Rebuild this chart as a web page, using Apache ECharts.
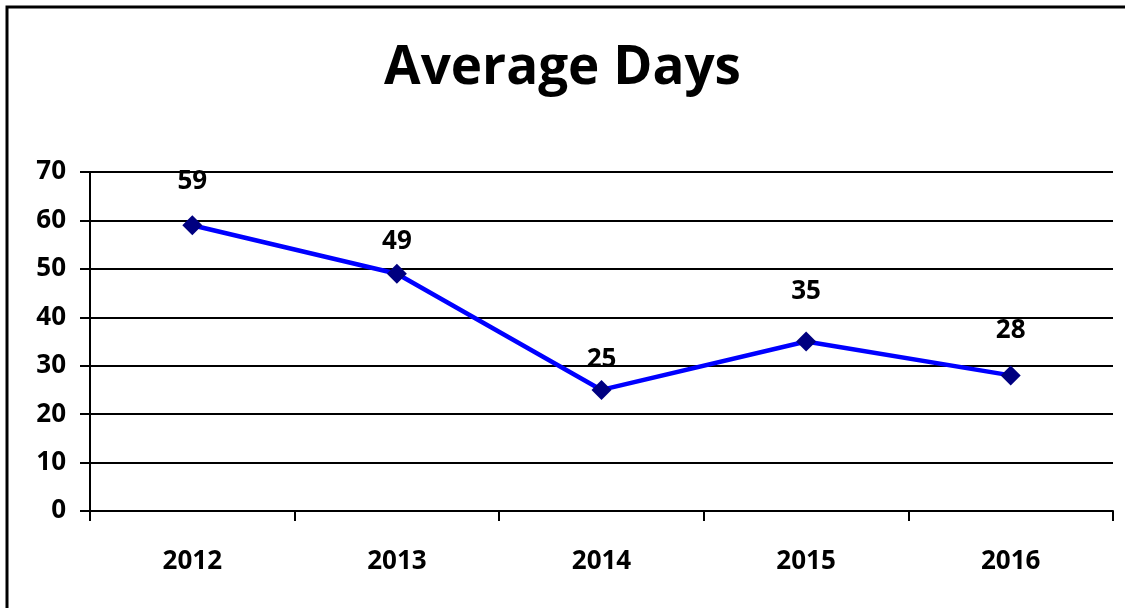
<!DOCTYPE html>
<html>
<head>
<meta charset="utf-8">
<script src="https://cdn.jsdelivr.net/npm/echarts@6/dist/echarts.min.js"></script>
<style>
html,body{margin:0;padding:0;background:#fff;overflow:hidden;}
#chart{width:1125px;height:608px;}
</style>
</head>
<body>
<div id="chart"></div>
<script>
const categories = ['2012', '2013', '2014', '2015', '2016'];
const averageDays = [59, 49, 25, 35, 28];
const yTicks = { min: 0, max: 70, interval: 10 };
const titleText = 'Average Days';
// vertical gap (px) between each marker and its value label, as placed in the original
const labelRaise = [44, 32, 30, 50, 45];

const FONT = '"Open Sans", "Noto Sans", sans-serif';
const chart = echarts.init(document.getElementById('chart'), null, { renderer: 'canvas' });

chart.setOption({
  animation: false,
  backgroundColor: '#ffffff',
  title: {
    text: titleText,
    left: 'center',
    top: 37,
    textStyle: { fontFamily: FONT, fontSize: 53, fontWeight: 'bold', color: '#000' }
  },
  graphic: [
    { type: 'polyline', shape: { points: [[7, 700], [7, 7], [1400, 7]] }, style: { stroke: '#000', lineWidth: 3, fill: null }, silent: true }
  ],
  grid: { left: 90, right: 12, top: 172, bottom: 97, containLabel: false },
  xAxis: {
    type: 'category',
    data: categories,
    boundaryGap: true,
    axisLine: { show: true, lineStyle: { color: '#000', width: 2 } },
    axisTick: { show: true, inside: false, length: 10, alignWithLabel: false, lineStyle: { color: '#000', width: 2 } },
    axisLabel: { margin: 38, fontFamily: FONT, fontSize: 26, fontWeight: 'bold', color: '#000' },
    splitLine: { show: false }
  },
  yAxis: {
    type: 'value',
    min: yTicks.min,
    max: yTicks.max,
    interval: yTicks.interval,
    axisLine: { show: true, lineStyle: { color: '#000', width: 2 } },
    axisTick: { show: true, inside: false, length: 10, lineStyle: { color: '#000', width: 2 } },
    axisLabel: { margin: 24, fontFamily: FONT, fontSize: 26, fontWeight: 'bold', color: '#000' },
    splitLine: { show: true, lineStyle: { color: '#000', width: 2 } }
  },
  series: [{
    type: 'line',
    data: averageDays.map((v, i) => ({
      value: v,
      label: { offset: [0, -labelRaise[i]] }
    })),
    symbol: 'diamond',
    symbolSize: 20,
    lineStyle: { color: '#0000ff', width: 4.5 },
    itemStyle: { color: '#000080' },
    label: {
      show: true,
      position: 'inside',
      fontFamily: FONT,
      fontSize: 26,
      fontWeight: 'bold',
      color: '#000'
    },
    z: 5
  }]
});
</script>
</body>
</html>
